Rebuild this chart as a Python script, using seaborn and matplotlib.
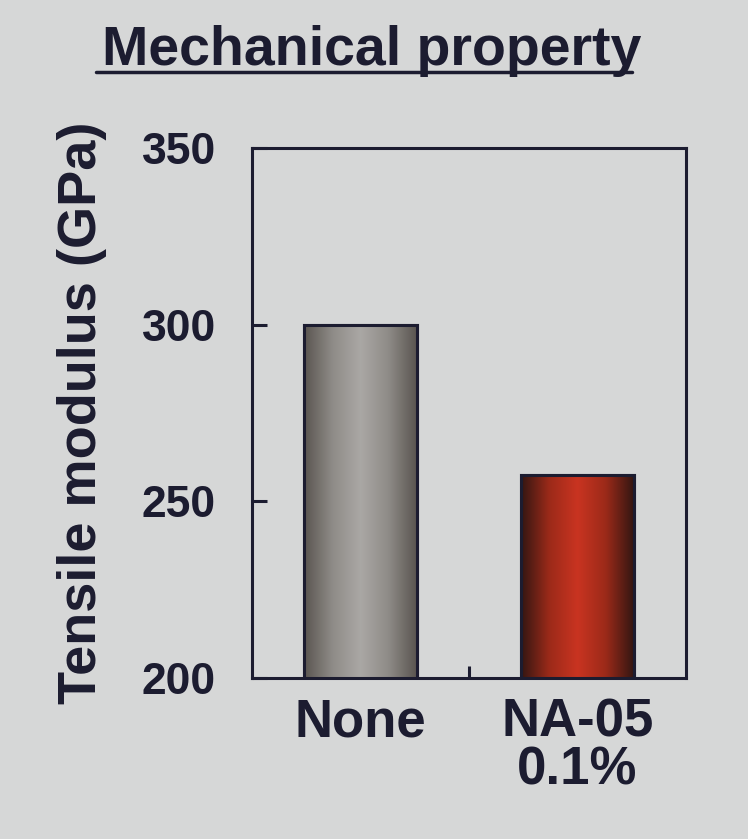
import numpy as np
import matplotlib
matplotlib.use('Agg')
import matplotlib.pyplot as plt
import seaborn as sns
from matplotlib.colors import LinearSegmentedColormap
from matplotlib.lines import Line2D

# Data
categories = ['None', 'NA-05\n0.1%']
modulus = [300, 257.5]
y_ticks = [200, 250, 300, 350]

bg = '#d6d7d7'
ink = '#1c1c30'

sns.set_theme(style='white')
plt.rcParams['font.family'] = ['Liberation Sans', 'DejaVu Sans']
plt.rcParams['font.weight'] = 'bold'

fig = plt.figure(figsize=(7.48, 8.39), dpi=100, facecolor=bg)
ax = fig.add_axes([0.3369, 0.1919, 0.5802, 0.6317])
ax.set_facecolor(bg)

sns.barplot(x=categories, y=modulus, ax=ax, width=0.52, color='#999999',
            edgecolor=ink, linewidth=2.2, zorder=3)

ax.set_ylim(200, 350)
ax.set_xlim(-0.5, 1.5)

# cylinder-like shading on each bar
shades = [['#5a5550', '#8e8b87', '#aaa8a5', '#8e8b87', '#5a5550'],
          ['#331612', '#9c2a19', '#c93421', '#9c2a19', '#331612']]
grad = np.linspace(0, 1, 256).reshape(1, -1)
for patch, cols in zip(ax.patches, shades):
    x0 = patch.get_x()
    w = patch.get_width()
    h = patch.get_height()
    cmap = LinearSegmentedColormap.from_list('bar', cols)
    im = ax.imshow(grad, cmap=cmap, aspect='auto', extent=[x0, x0 + w, 200, h],
                   zorder=3.5, interpolation='bicubic')
    im.set_clip_path(patch)
    edge = plt.Rectangle((x0, 200), w, h - 200, fill=False, edgecolor=ink,
                         linewidth=2.2, zorder=4)
    ax.add_patch(edge)
ax.set_xlim(-0.5, 1.5)
ax.set_ylim(200, 350)

for s in ax.spines.values():
    s.set_color(ink)
    s.set_linewidth(2.2)

ax.set_yticks(y_ticks)
ax.set_yticklabels([str(t) for t in y_ticks], fontsize=32, fontweight='bold', color=ink)
ax.tick_params(axis='y', left=True, direction='in', length=11, width=2.2, color=ink, pad=26)
ax.set_xticks([0, 1])
ax.set_xticklabels(categories, fontsize=38, fontweight='bold', color=ink, linespacing=0.95)
ax.tick_params(axis='x', which='major', bottom=False, length=0, pad=14, labelcolor=ink)
ax.set_xticks([0.5], minor=True)
ax.tick_params(axis='x', which='minor', bottom=True, direction='in', length=9, width=2.2, color=ink)

ax.set_ylabel('Tensile modulus (GPa)', fontsize=39, fontweight='bold', color=ink, labelpad=25)
ax.set_xlabel('')

fig.text(0.1364, 1 - 65 / 839, 'Mechanical property', fontsize=40, fontweight='bold',
         color=ink, ha='left', va='baseline')
fig.add_artist(Line2D([96 / 748, 632 / 748], [1 - 72 / 839, 1 - 72 / 839],
                      color=ink, linewidth=2.5))

fig.savefig('out.png', dpi=100, facecolor=bg)
